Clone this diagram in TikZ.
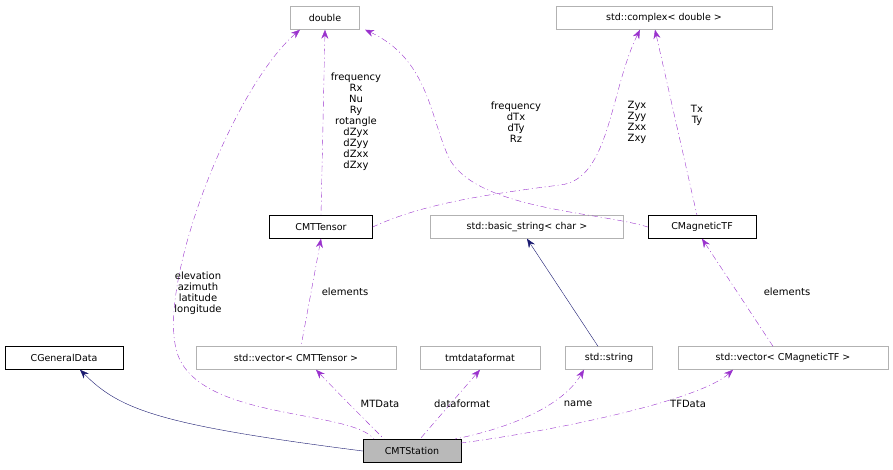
\documentclass[tikz,border=0pt]{standalone}
\usepackage{fontspec}
\setmainfont{DejaVu Sans}
\usetikzlibrary{arrows.meta}
\definecolor{pur}{HTML}{9A32CD}
\definecolor{nav}{HTML}{191970}
\begin{document}
\begin{tikzpicture}[x=1pt,y=-1pt,font=\fontsize{9.5}{11}\selectfont,
 box/.style={draw=black,fill=white,minimum height=23pt,inner sep=2pt,anchor=center},
 gbox/.style={draw=gray!60,fill=white,minimum height=23pt,inner sep=2pt},
 uses/.style={pur,dash pattern=on 6pt off 3pt on 1pt off 3pt,{Stealth[length=9pt,width=7pt]}-},
 inh/.style={nav,{Stealth[length=9pt,width=7pt]}-},
 lbl/.style={align=center,inner sep=0pt,font=\fontsize{10}{11}\selectfont}]
\useasboundingbox (0,0) rectangle (893,469);
\node[gbox,minimum width=69pt] (dbl) at (325,18) {double};
\node[gbox,minimum width=216pt] (cpx) at (664,18) {std::complex< double >};
\node[box,minimum width=103pt] (tens) at (321,227) {CMTTensor};
\node[gbox,minimum width=193pt] (bstr) at (527,227) {std::basic\_string< char >};
\node[box,minimum width=108pt] (mtf) at (702,227) {CMagneticTF};
\node[box,minimum width=118pt] (gen) at (64,358) {CGeneralData};
\node[gbox,minimum width=200pt] (vt) at (296,358) {std::vector< CMTTensor >};
\node[gbox,minimum width=120pt] (fmt) at (480,358) {tmtdataformat};
\node[gbox,minimum width=87pt] (str) at (609,358) {std::string};
\node[gbox,minimum width=210pt] (vm) at (783,358) {std::vector< CMagneticTF >};
\node[box,fill=gray!55,minimum width=98pt] (st) at (412,451) {CMTStation};
\coordinate (s1) at (374,439);
\coordinate (s2) at (384,439);
\coordinate (s3) at (420,439);
\coordinate (s4) at (455,439);
\coordinate (s5) at (461,443);
% edges
\draw[inh] ([xshift=16pt]gen.south) .. controls (120,410) and (160,425) .. (st.west);
\draw[inh] (bstr.south) -- ([xshift=-11pt]str.north);
\draw[uses] ([xshift=20pt]vt.south) .. controls (340,395) and (370,425) .. (s2);
\draw[uses] (fmt.south) -- (s3);
\draw[uses] ([xshift=-25pt]str.south) .. controls (560,410) and (500,430) .. (s4);
\draw[uses] ([xshift=-50pt]vm.south) .. controls (700,400) and (560,430) .. (s5);
\draw[uses] ([xshift=-25pt]dbl.south) .. controls (230,90) and (150,300) .. (180,360) .. controls (210,420) and (350,410) .. (s1);
\draw[uses] (dbl.south) -- (tens.north);
\draw[uses] ([xshift=-24pt]cpx.south) .. controls (610,90) and (610,180) .. (560,185) .. controls (480,195) and (420,205) .. (tens.east);
\draw[uses] ([xshift=-9pt]cpx.south) -- ([xshift=-5pt]mtf.north);
\draw[uses] ([xshift=40pt]dbl.south) .. controls (430,60) and (430,120) .. (450,160) .. controls (480,210) and (600,212) .. (mtf.west);
\draw[uses] (tens.south) -- ([xshift=5pt]vt.north);
\draw[uses] (mtf.south) -- ([xshift=-10pt]vm.north);
% labels
\node[lbl] at (356,122) {frequency\\Rx\\Nu\\Ry\\rotangle\\dZyx\\dZyy\\dZxx\\dZxy};
\node[lbl] at (516,122) {frequency\\dTx\\dTy\\Rz};
\node[lbl] at (637,122) {Zyx\\Zyy\\Zxx\\Zxy};
\node[lbl] at (697,115) {Tx\\Ty};
\node[lbl] at (198,293) {elevation\\azimuth\\latitude\\longitude};
\node[lbl] at (345,292) {elements};
\node[lbl] at (787,292) {elements};
\node[lbl] at (380,404) {MTData};
\node[lbl] at (462,404) {dataformat};
\node[lbl] at (578,404) {name};
\node[lbl] at (688,404) {TFData};
\end{tikzpicture}
\end{document}
